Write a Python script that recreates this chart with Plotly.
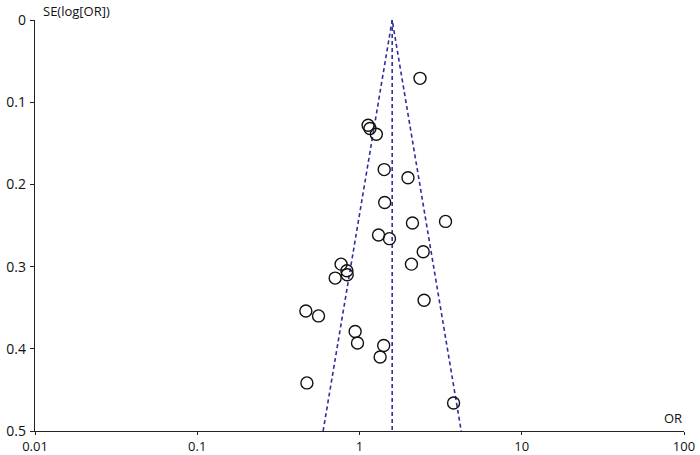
import numpy as np
import plotly.graph_objects as go

# study odds ratios and standard errors of log(OR)
study_or = [2.36, 1.13, 1.16, 1.27, 1.42, 1.99, 1.43, 2.12, 3.39, 1.31, 1.53, 2.47, 2.09,
            0.77, 0.836, 0.84, 0.708, 2.50, 0.467, 0.559, 0.94, 0.972, 1.41, 1.34, 0.474, 3.80]
study_se = [0.071, 0.128, 0.132, 0.139, 0.182, 0.192, 0.222, 0.247, 0.245, 0.2615, 0.266,
            0.282, 0.297, 0.297, 0.305, 0.31, 0.314, 0.341, 0.354, 0.360, 0.379, 0.393,
            0.396, 0.410, 0.4415, 0.466]

pooled_or = 1.59
se_max = 0.5
x_ticks = [0.01, 0.1, 1, 10, 100]
x_tick_labels = ["0.01", "0.1", "1", "10", "100"]
y_ticks = [0, 0.1, 0.2, 0.3, 0.4, 0.5]
y_tick_labels = ["0", "0.1", "0.2", "0.3", "0.4", "0.5"]

line_color = "#2e2e9e"
font_family = "Open Sans, Lato, sans-serif"

lo = float(np.exp(np.log(pooled_or) - 1.96 * se_max))
hi = float(np.exp(np.log(pooled_or) + 1.96 * se_max))

fig = go.Figure()
dash_line = dict(color=line_color, width=1.6, dash="4px,3px")
fig.add_trace(go.Scatter(x=[lo, pooled_or, hi], y=[se_max, 0, se_max], mode="lines",
                         line=dash_line, showlegend=False, hoverinfo="skip"))
fig.add_trace(go.Scatter(x=[pooled_or, pooled_or], y=[0, se_max], mode="lines",
                         line=dash_line, showlegend=False, hoverinfo="skip"))
fig.add_trace(go.Scatter(
    x=study_or, y=study_se, mode="markers",
    marker=dict(symbol="circle-open", size=12, color="#111111", line=dict(width=1.4)),
    showlegend=False,
))

fig.update_layout(
    width=700, height=455,
    margin=dict(l=35, r=16, t=20, b=24),
    plot_bgcolor="white", paper_bgcolor="white",
    font=dict(family=font_family, size=14, color="#111111"),
    xaxis=dict(
        type="log", range=[-2, 2], tickvals=x_ticks, ticktext=x_tick_labels, automargin=False,
        showgrid=False, zeroline=False, showline=True, linecolor="#222222", linewidth=1.3,
        ticks="outside", ticklen=3, tickcolor="#222222", tickwidth=1.2, ticklabelstandoff=0,
        tickfont=dict(size=13),
    ),
    yaxis=dict(
        range=[0.5, 0], tickvals=y_ticks, ticktext=y_tick_labels, automargin=False,
        showgrid=False, zeroline=False, showline=True, linecolor="#222222", linewidth=1.3,
        ticks="outside", ticklen=4, tickcolor="#222222", tickwidth=1.2, ticklabelstandoff=1,
    ),
    annotations=[
        dict(text="SE(log[OR])", xref="paper", yref="paper", x=0, y=1, xanchor="left",
             yanchor="middle", xshift=6, yshift=9, showarrow=False, font=dict(size=13)),
        dict(text="OR", xref="paper", yref="paper", x=1, y=0, xanchor="right",
             yanchor="bottom", yshift=2, showarrow=False, font=dict(size=13)),
    ],
)

# drop the browser's default body margin so the figure sits at the page corner
fig.write_html("out.html", config={"displayModeBar": False},
               post_script="document.body.style.margin = '0';")
